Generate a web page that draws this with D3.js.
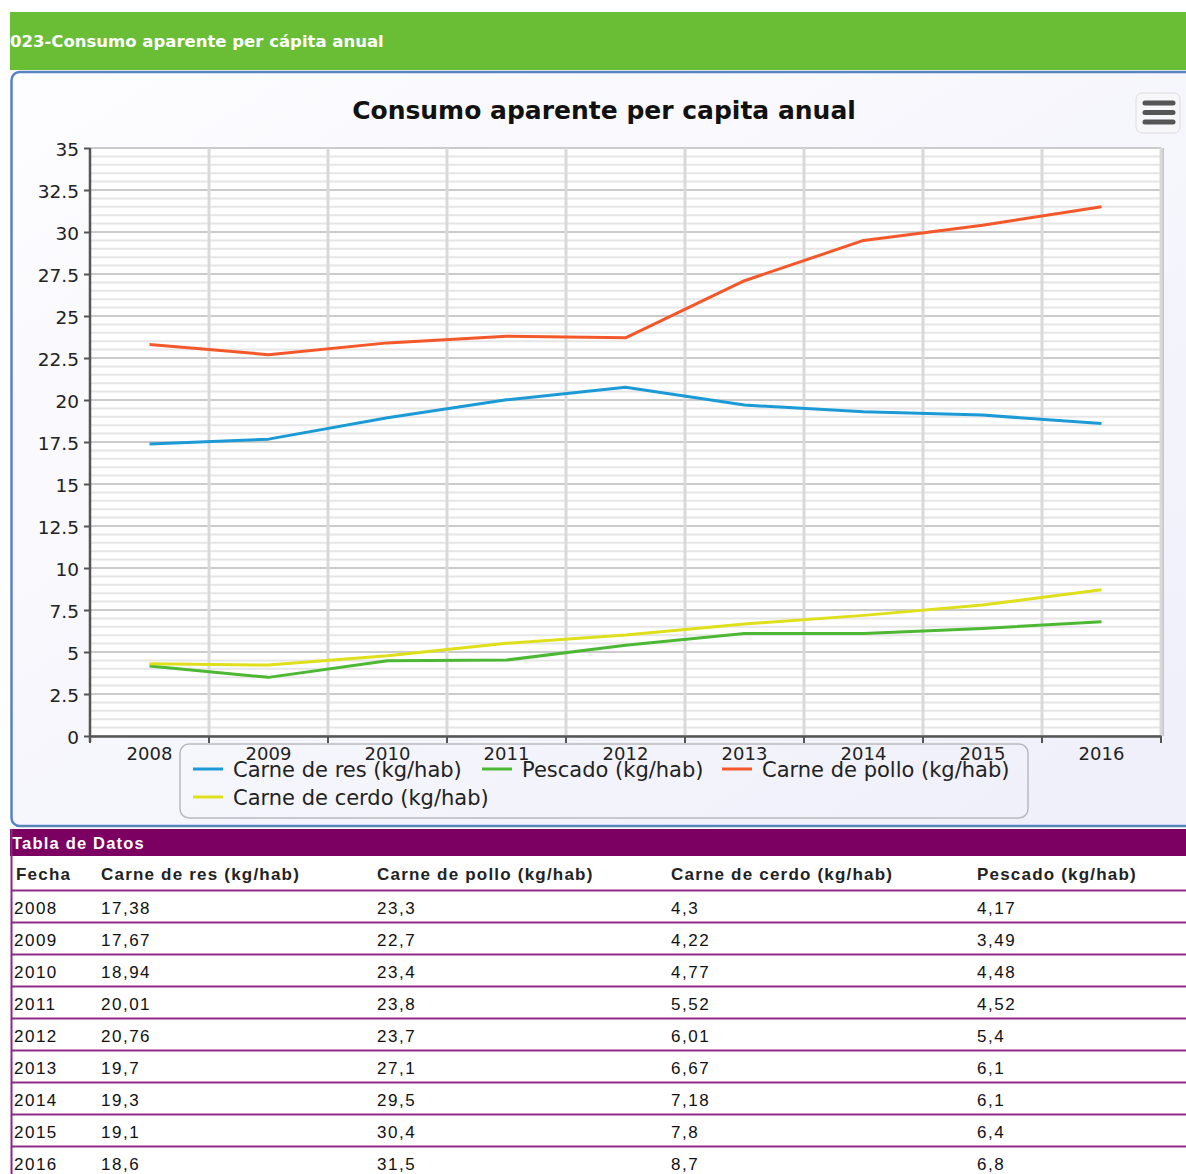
<!DOCTYPE html>
<html>
<head>
<meta charset="utf-8">
<script src="https://cdn.jsdelivr.net/npm/d3@7"></script>
<style>
  body { margin: 0; background: #fff; }
  svg { display: block; }
</style>
</head>
<body>
<svg id="chart" width="1186" height="1174"></svg>
<script>
// datos de la tabla
const years = ["2008", "2009", "2010", "2011", "2012", "2013", "2014", "2015", "2016"];
const carneRes = [17.38, 17.67, 18.94, 20.01, 20.76, 19.7, 19.3, 19.1, 18.6];
const carnePollo = [23.3, 22.7, 23.4, 23.8, 23.7, 27.1, 29.5, 30.4, 31.5];
const carneCerdo = [4.3, 4.22, 4.77, 5.52, 6.01, 6.67, 7.18, 7.8, 8.7];
const pescado = [4.17, 3.49, 4.48, 4.52, 5.4, 6.1, 6.1, 6.4, 6.8];
const yTicks = [0, 2.5, 5, 7.5, 10, 12.5, 15, 17.5, 20, 22.5, 25, 27.5, 30, 32.5, 35];
const legendNames = ["Carne de res (kg/hab)", "Pescado (kg/hab)", "Carne de pollo (kg/hab)", "Carne de cerdo (kg/hab)"];
const tableCols = ["Fecha", "Carne de res (kg/hab)", "Carne de pollo (kg/hab)", "Carne de cerdo (kg/hab)", "Pescado (kg/hab)"];

const series = [
  { name: legendNames[0], values: carneRes, color: "#1b9ad6" },
  { name: legendNames[1], values: pescado, color: "#4cb833" },
  { name: legendNames[2], values: carnePollo, color: "#f4582a" },
  { name: legendNames[3], values: carneCerdo, color: "#dfdf1c" }
];

const svg = d3.select("#chart");
const chartFont = "'DejaVu Sans', Verdana, sans-serif";
const tableFont = "'Liberation Sans', Arial, sans-serif";

// barra verde
svg.append("rect").attr("x", 10).attr("y", 12).attr("width", 1176).attr("height", 58).attr("fill", "#69be36");
svg.append("text").attr("x", 10).attr("y", 47)
  .attr("fill", "#fff").attr("font-family", "'DejaVu Sans', sans-serif")
  .attr("font-weight", "bold").attr("font-size", 16.5)
  .text("023-Consumo aparente per cápita anual");

// contenedor
const defs = svg.append("defs");
const grad = defs.append("linearGradient").attr("id", "bg").attr("x1", 0).attr("y1", 0).attr("x2", 1).attr("y2", 1);
grad.append("stop").attr("offset", "0%").attr("stop-color", "#fdfdff");
grad.append("stop").attr("offset", "100%").attr("stop-color", "#efeffa");

svg.append("rect").attr("x", 11.5).attr("y", 72).attr("width", 1190).attr("height", 754).attr("rx", 8)
  .attr("fill", "url(#bg)").attr("stroke", "#5784bf").attr("stroke-width", 2.5);

svg.append("text").attr("x", 604).attr("y", 119).attr("text-anchor", "middle")
  .attr("font-family", chartFont).attr("font-weight", "bold").attr("font-size", 25).attr("fill", "#111")
  .text("Consumo aparente per capita anual");

// boton menu
const menu = svg.append("g");
menu.append("rect").attr("x", 1136).attr("y", 93).attr("width", 44).attr("height", 40).attr("rx", 6)
  .attr("fill", "#f7f7fa").attr("stroke", "#dcdce2");
[103, 112.5, 122].forEach(y => {
  menu.append("line").attr("x1", 1145).attr("x2", 1173).attr("y1", y).attr("y2", y)
    .attr("stroke", "#555").attr("stroke-width", 5).attr("stroke-linecap", "round");
});

// escalas
const x = d3.scaleBand().domain(years).range([90, 1161]).padding(0);
const y = d3.scaleLinear().domain([0, 35]).range([736, 148]);

const plot = svg.append("g");
plot.append("rect").attr("x", 90).attr("y", 148).attr("width", 1071).attr("height", 588).attr("fill", "#fff");
// sombra derecha
plot.append("line").attr("x1", 1162.5).attr("x2", 1162.5).attr("y1", 148).attr("y2", 736)
  .attr("stroke", "#c8c8c8").attr("stroke-width", 3);

// lineas menores
const minor = d3.range(0, 35.01, 0.5);
plot.selectAll(".minor").data(minor).enter().append("line")
  .attr("x1", 90).attr("x2", 1161).attr("y1", d => y(d)).attr("y2", d => y(d))
  .attr("stroke", "#e6e6e6").attr("stroke-width", 2);
plot.selectAll(".major").data(yTicks).enter().append("line")
  .attr("x1", 90).attr("x2", 1161).attr("y1", d => y(d)).attr("y2", d => y(d))
  .attr("stroke", "#cbcbcb").attr("stroke-width", 2);
// verticales
const bounds = years.map(d => x(d)).concat([x(years[years.length - 1]) + x.bandwidth()]);
plot.selectAll(".vgrid").data(bounds.slice(1)).enter().append("line")
  .attr("x1", d => d).attr("x2", d => d).attr("y1", 148).attr("y2", 736)
  .attr("stroke", "#d9d9d9").attr("stroke-width", 3);

// eje y
const yAxis = svg.append("g").attr("transform", "translate(90,0)")
  .call(d3.axisLeft(y).tickValues(yTicks).tickSize(6).tickSizeOuter(0).tickFormat(d => d));
yAxis.select(".domain").attr("stroke", "#555").attr("stroke-width", 2.5).attr("d", "M0,148V742");
yAxis.selectAll(".tick line").attr("stroke", "#555").attr("stroke-width", 2);
yAxis.selectAll(".tick text").attr("font-family", chartFont).attr("font-size", 18.5).attr("fill", "#222").attr("x", -11).attr("dy", "0.4em");

// eje x
const xAxis = svg.append("g").attr("transform", "translate(0,736)")
  .call(d3.axisBottom(x).tickSize(0).tickSizeOuter(0));
xAxis.select(".domain").attr("stroke", "#555").attr("stroke-width", 2.5);
xAxis.selectAll(".tick text").attr("font-family", chartFont).attr("font-size", 18).attr("fill", "#222").attr("dy", "0.71em").attr("y", 11);
svg.selectAll(".xtick").data(bounds).enter().append("line")
  .attr("x1", d => d).attr("x2", d => d).attr("y1", 736).attr("y2", 743)
  .attr("stroke", "#555").attr("stroke-width", 2);

// series
const line = d3.line().x((d, i) => x(years[i]) + x.bandwidth() / 2).y(d => y(d));
svg.selectAll(".serie").data(series).enter().append("path")
  .attr("d", d => line(d.values)).attr("fill", "none")
  .attr("stroke", d => d.color).attr("stroke-width", 3).attr("stroke-linejoin", "round");

// leyenda
const legend = svg.append("g");
legend.append("rect").attr("x", 180).attr("y", 744).attr("width", 848).attr("height", 74).attr("rx", 9)
  .attr("fill", "none").attr("stroke", "#b9b9bf").attr("stroke-width", 1.5);
const legPos = [[193, 769], [482, 769], [722, 769], [193, 797]];
series.forEach((s, i) => {
  const [lx, ly] = legPos[i];
  legend.append("line").attr("x1", lx).attr("x2", lx + 30).attr("y1", ly).attr("y2", ly)
    .attr("stroke", s.color).attr("stroke-width", 3);
  legend.append("text").attr("x", lx + 40).attr("y", ly + 8)
    .attr("font-family", chartFont).attr("font-size", 21).attr("fill", "#222").text(s.name);
});

// tabla
svg.append("rect").attr("x", 10).attr("y", 829).attr("width", 1176).attr("height", 27).attr("fill", "#7c0062");
svg.append("text").attr("x", 12).attr("y", 849).attr("fill", "#fff")
  .attr("font-family", tableFont).attr("font-weight", "bold").attr("font-size", 16.5).attr("letter-spacing", 1.2)
  .text("Tabla de Datos");
svg.append("line").attr("x1", 11.5).attr("x2", 11.5).attr("y1", 829).attr("y2", 1174)
  .attr("stroke", "#8a2a7c").attr("stroke-width", 2);

const colX = [16, 101, 377, 671, 977];
tableCols.forEach((c, i) => {
  svg.append("text").attr("x", colX[i]).attr("y", 880)
    .attr("font-family", tableFont).attr("font-weight", "bold").attr("font-size", 17).attr("letter-spacing", 1.2)
    .attr("fill", "#222").text(c);
});
const rowY = d3.scaleLinear().domain([0, 1]).range([890.5, 922.5]);
const fmt = v => String(v).replace(".", ",");
years.forEach((yr, r) => {
  svg.append("line").attr("x1", 12).attr("x2", 1186).attr("y1", rowY(r)).attr("y2", rowY(r))
    .attr("stroke", "#8e2a80").attr("stroke-width", 2);
  const vals = [yr, fmt(carneRes[r]), fmt(carnePollo[r]), fmt(carneCerdo[r]), fmt(pescado[r])];
  vals.forEach((v, i) => {
    svg.append("text").attr("x", i === 0 ? 14 : colX[i]).attr("y", rowY(r) + 23)
      .attr("font-family", tableFont).attr("font-size", 17).attr("letter-spacing", 1.5)
      .attr("fill", "#111").text(v);
  });
});
</script>
</body>
</html>
